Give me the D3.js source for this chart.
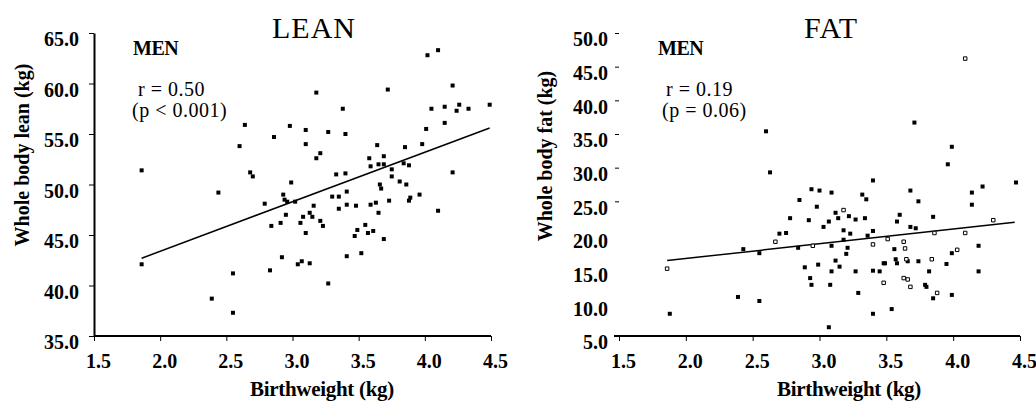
<!DOCTYPE html>
<html>
<head>
<meta charset="utf-8">
<script src="https://cdn.jsdelivr.net/npm/d3@7"></script>
<style>
  body { margin: 0; background: white; }
  text { font-family: "Liberation Serif", "Times New Roman", serif; fill: black; }
</style>
</head>
<body>
<div id="container"></div>
<script>
// lean panel (birthweight kg, whole body lean kg)
let leanX = [1.86,1.86,2.64,2.60,2.68,2.70,2.44,2.55,2.39,2.55,3.18,3.38,2.98,3.10,3.27,3.40,2.86,3.10,3.21,3.18,
  3.33,3.40,2.99,2.93,2.94,2.96,3.02,2.79,3.30,3.35,3.41,3.35,3.16,2.95,3.13,3.08,3.06,3.15,3.21,3.23,
  2.91,2.84,3.10,3.41,2.92,3.04,3.07,3.13,2.83,3.27,4.02,4.10,3.72,4.21,4.05,4.15,4.26,4.24,4.33,4.49,
  4.15,4.01,3.64,3.85,3.98,3.58,3.69,3.65,3.69,3.59,3.75,3.84,3.88,3.75,3.81,3.86,3.66,3.67,4.21,3.41,
  3.48,3.59,3.63,3.73,3.88,3.89,3.96,4.10,3.65,3.55,3.49,3.47,3.57,3.61,3.69,3.52];
let leanY = [51.4,42.1,55.9,53.8,51.2,50.8,49.2,41.2,38.7,37.3,59.1,57.5,55.8,55.4,55.2,55.0,54.7,54.0,53.1,52.6,
  51.0,51.1,50.2,49.0,48.5,48.3,48.3,48.1,48.8,48.8,48.0,47.6,47.9,47.0,47.2,46.8,46.2,46.8,46.4,45.9,
  46.2,45.9,45.2,42.9,42.8,42.1,42.4,42.2,41.5,40.2,62.8,63.3,59.4,59.8,57.5,57.7,57.9,57.3,57.5,57.9,
  56.1,55.5,53.9,53.7,54.0,52.6,52.8,52.0,52.0,51.8,51.5,52.1,51.9,50.8,50.3,50.0,50.0,49.6,51.2,49.3,
  47.9,48.0,48.2,48.4,48.4,48.7,49.0,47.4,47.2,46.0,45.5,44.9,45.2,45.4,44.6,43.2];
let leanFitX = [1.86, 4.49];
let leanFitY = [42.7, 55.6];
let leanTicks = [35, 40, 45, 50, 55, 60, 65];

// fat panel: filled and open markers
let fatX = [1.88,2.39,2.55,2.43,2.55,2.75,2.60,2.63,3.40,2.94,3.00,3.09,3.32,3.35,2.85,2.98,3.12,3.14,3.22,3.27,
  3.34,2.78,2.92,3.07,3.03,3.18,3.23,3.40,3.36,2.70,2.84,3.09,3.18,3.21,3.20,3.12,3.15,2.89,2.99,3.09,
  3.27,3.40,3.45,3.48,2.93,2.94,3.08,3.29,3.40,3.07,3.71,3.99,3.96,4.22,4.47,3.68,3.74,4.14,4.14,3.85,
  3.60,3.58,3.68,3.72,3.56,3.99,4.19,3.49,3.57,3.58,3.66,3.74,3.95,3.82,4.19,3.79,3.80,3.85,3.99,3.54];
let fatY = [8.3,10.8,10.2,17.9,17.3,20.3,35.4,29.3,28.1,26.8,26.6,26.3,26.0,25.3,25.2,24.2,23.3,22.5,22.8,22.3,
  22.5,22.5,22.2,22.0,21.2,20.7,20.2,20.6,19.9,20.2,18.1,18.4,19.3,18.1,17.2,16.2,15.3,15.2,15.6,14.6,
  14.6,14.7,14.6,15.8,13.6,12.6,12.6,11.4,8.3,6.3,36.7,33.1,30.5,27.2,27.8,26.6,25.0,26.3,24.5,22.7,
  23.0,22.0,21.2,21.0,17.9,17.3,18.4,15.8,16.4,15.8,16.1,16.1,15.7,14.6,14.6,12.6,12.3,10.6,11.1,9.0];
let fatOpenX = [1.86,2.67,3.18,2.95,3.40,3.48,4.09,4.30,3.86,4.09,3.51,3.63,3.64,4.03,3.65,3.84,3.63,3.66,3.68,3.88];
let fatOpenY = [15.0,19.0,23.7,18.4,18.6,12.9,46.2,22.2,20.3,20.3,19.4,19.0,18.0,17.8,16.4,16.4,13.6,13.4,12.3,11.4];
let fatFitX = [1.86, 4.46];
let fatFitY = [16.2, 21.9];
let fatTicks = [5, 10, 15, 20, 25, 30, 35, 40, 45, 50];

let xTicks = [1.5, 2.0, 2.5, 3.0, 3.5, 4.0, 4.5];

let w = 1036;
let h = 403;

let viz = d3.select("#container").append("svg")
    .attr("width", w)
    .attr("height", h)
    .style("display", "block")
;

function drawPanel(opt){
  let x = d3.scaleLinear().domain([1.5, 4.5]).range([opt.left, opt.right]);
  let y = d3.scaleLinear().domain(opt.yDomain).range([336, 33]);

  // x axis
  let xa = viz.append("g")
      .attr("transform", "translate(0,336)")
      .call(d3.axisBottom(x).tickValues(xTicks).tickFormat(d3.format(".1f"))
        .tickSize(5).tickSizeOuter(0).tickPadding(13));
  xa.select(".domain")
      .attr("d", "M" + (x(1.5) - opt.xExtend) + ",0H" + x(4.5))
      .attr("stroke-width", 2);
  xa.selectAll("text").attr("dx", 4).style("font-size", "20px").style("font-weight", "bold")
      .style("font-family", "'Liberation Serif', serif");

  // y axis
  let ya = viz.append("g")
      .attr("transform", "translate(" + opt.left + ",0)")
      .call(d3.axisLeft(y).tickValues(opt.yTicks).tickFormat(d3.format(".1f"))
        .tickSize(opt.yTickSize).tickSizeOuter(0).tickPadding(opt.yPad));
  if (opt.yLine) {
    ya.select(".domain").attr("stroke-width", 2);
  } else {
    ya.select(".domain").remove();
    ya.selectAll(".tick line").filter(d => d < 25).remove();
  }
  ya.selectAll("text").attr("dy", "0.64em").style("font-size", "20px").style("font-weight", "bold")
      .style("font-family", "'Liberation Serif', serif");

  // fitted line
  let line = d3.line().x(d => x(d[0])).y(d => y(d[1]));
  viz.append("path")
      .datum(d3.zip(opt.fitX, opt.fitY))
      .attr("d", line)
      .attr("fill", "none")
      .attr("stroke", "black")
      .attr("stroke-width", 1.5);

  // points
  let sym = d3.symbol().type(d3.symbolSquare).size(16);
  viz.append("g").selectAll("path").data(d3.zip(opt.px, opt.py)).enter()
    .append("path")
      .attr("d", sym)
      .attr("transform", d => "translate(" + x(d[0]) + "," + y(d[1]) + ")")
      .attr("fill", "black");
  if (opt.ox) {
    let osym = d3.symbol().type(d3.symbolSquare).size(12);
    viz.append("g").selectAll("path").data(d3.zip(opt.ox, opt.oy)).enter()
      .append("path")
        .attr("d", osym)
        .attr("transform", d => "translate(" + x(d[0]) + "," + y(d[1]) + ")")
        .attr("fill", "white")
        .attr("stroke", "black")
        .attr("stroke-width", 1);
  }

  // texts
  viz.append("text").attr("x", opt.titleX).attr("y", 38).attr("text-anchor", "middle")
      .style("font-size", "30px").style("letter-spacing", "1px").text(opt.title);
  viz.append("text").attr("x", opt.menX).attr("y", 55)
      .style("font-size", "20px").style("font-weight", "bold").style("letter-spacing", "-0.5px").text("MEN");
  viz.append("text").attr("x", opt.rX).attr("y", 96)
      .style("font-size", "20px").style("letter-spacing", "0.5px").text(opt.rText);
  viz.append("text").attr("x", opt.pX).attr("y", 117)
      .style("font-size", "20px").style("letter-spacing", "0.5px").text(opt.pText);
  viz.append("text").attr("x", opt.xTitleX).attr("y", 396).attr("text-anchor", "middle")
      .style("font-size", "21px").style("font-weight", "bold").style("letter-spacing", "-0.3px")
      .text("Birthweight (kg)");
  viz.append("text")
      .attr("transform", "translate(" + opt.yTitleX + "," + opt.yTitleY + ") rotate(-90)")
      .attr("text-anchor", "middle").attr("dy", "0.35em")
      .style("font-size", "20px").style("font-weight", "bold").text(opt.yTitle);
}

drawPanel({
  left: 94, right: 491, xExtend: 0, yDomain: [35, 65], yTicks: leanTicks,
  yTickSize: 5, yPad: 10, yLine: true,
  fitX: leanFitX, fitY: leanFitY, px: leanX, py: leanY,
  title: "LEAN", titleX: 314, menX: 133, rX: 138, rText: "r = 0.50", pX: 132, pText: "(p < 0.001)",
  xTitleX: 322, yTitleX: 22, yTitleY: 155, yTitle: "Whole body lean (kg)"
});

drawPanel({
  left: 619, right: 1020, xExtend: 5, yDomain: [5, 50], yTicks: fatTicks,
  yTickSize: 4, yPad: 7, yLine: false,
  fitX: fatFitX, fitY: fatFitY, px: fatX, py: fatY, ox: fatOpenX, oy: fatOpenY,
  title: "FAT", titleX: 831, menX: 658, rX: 666, rText: "r = 0.19", pX: 662, pText: "(p = 0.06)",
  xTitleX: 849, yTitleX: 545, yTitleY: 156, yTitle: "Whole body fat (kg)"
});
</script>
</body>
</html>
